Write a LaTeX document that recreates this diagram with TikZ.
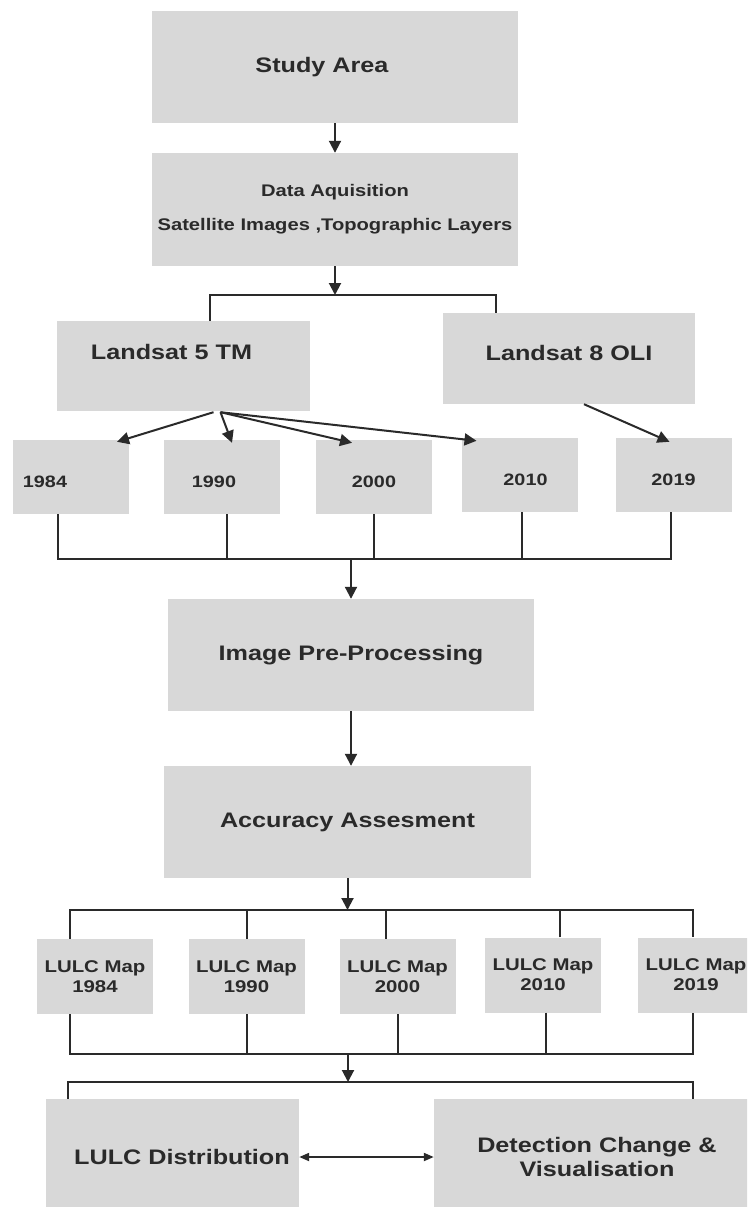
\documentclass[tikz,border=0pt]{standalone}
\usepackage{fontspec}
\setmainfont{Liberation Sans}[FakeStretch=1.2]
\usetikzlibrary{calc}
\usetikzlibrary{arrows.meta}
\definecolor{boxgray}{HTML}{D8D8D8}
\definecolor{ink}{HTML}{2A2A2A}
\newcommand{\boxfont}[2]{\fontsize{#1}{#2}\selectfont\bfseries}

\begin{document}
\begin{tikzpicture}[x=1pt, y=-1pt,
  box/.style={fill=boxgray, text=ink, inner sep=0pt},
  conn/.style={draw=ink, line width=2pt},
  arr/.style={conn, -{Triangle[length=12pt, width=12pt]}},
  year/.style={box, minimum width=116, minimum height=74, text height=20pt, text depth=0pt, font=\boxfont{16.5}{20}},
  lulc/.style={box, align=center, minimum width=116, minimum height=75, font=\boxfont{17}{20}}]
  \useasboundingbox (0,0) rectangle (747,1207);
  \clip (0,0) rectangle (747,1207);

  \node[box, minimum width=366, minimum height=112, font=\boxfont{21}{25}] (study) at (335,67) {Study Area\hspace*{26pt}};
  \node[box, align=center, minimum width=366, minimum height=113, font=\boxfont{16.8}{34}] (data) at (335,209.5)
    {Data Aquisition\\Satellite Images ,Topographic Layers};
  \node[box, minimum width=253, minimum height=90, text height=15pt, text depth=28pt, font=\boxfont{21}{25}] (l5) at (183.5,366) {Landsat 5 TM\hspace*{24pt}};
  \node[box, minimum width=252, minimum height=91, text height=15pt, text depth=12pt, font=\boxfont{21}{25}] (l8) at (569,358.5) {Landsat 8 OLI};

  \node[year] (y84) at (71,477) {1984\hspace*{52pt}};
  \node[year] (y90) at (222,477) {1990\hspace*{16pt}};
  \node[year] (y00) at (374,477) {2000};
  \node[year] (y10) at (519.5,475) {\hspace*{12pt}2010};
  \node[year] (y19) at (673.5,475) {2019};

  \node[box, minimum width=366, minimum height=112, font=\boxfont{21}{25}] (pre) at (351,655) {Image Pre-Processing};
  \node[box, minimum width=367, minimum height=112, font=\boxfont{21}{25}] (acc) at (347.5,822) {Accuracy Assesment};

  \node[lulc] (m84) at (95,976.5) {LULC Map\\1984};
  \node[lulc] (m90) at (246.5,976.5) {LULC Map\\1990};
  \node[lulc] (m00) at (397.5,976.5) {LULC Map\\2000};
  \node[lulc] (m10) at (543,975) {LULC Map\\2010};
  \node[lulc] (m19) at (696,975) {LULC Map\\2019};

  \node[box, minimum width=253, minimum height=116, font=\boxfont{21}{25}] (dist) at (172.5,1157) {\hspace*{19pt}LULC Distribution};
  \node[box, align=center, minimum width=326, minimum height=116, font=\boxfont{21}{24}] (det) at (597,1157) {Detection Change \&\\Visualisation};

  \coordinate (fork1) at (335,295);
  \coordinate (join1) at (351,559);
  \coordinate (fork2) at (347.5,910);
  \coordinate (join2) at (348,1054);
  \coordinate (fork3) at (348,1082);

  \draw[arr] (study) -- (data);
  \draw[arr] (data.south) -- (fork1);
  \draw[conn] ($(l5.north)+(26.5,0)$) |- (fork1) -| ($(l8.north)+(-73,0)$);

  \draw[arr] ($(l5.south)+(30,1)$) -- ($(y84.north)+(46,2)$);
  \draw[arr] ($(l5.south)+(37,1)$) -- ($(y90.north)+(10,3)$);
  \draw[arr] ($(l5.south)+(37,1)$) -- ($(y00.north)+(-22,3)$);
  \draw[arr] ($(l5.south)+(37,1)$) -- ($(y10.north)+(-43,3)$);
  \draw[arr] ($(l8.south)+(15,0)$) -- ($(y19.north)+(-4,4)$);

  \draw[conn] ($(y84.south)+(-13,0)$) |- (join1) -| ($(y19.south)+(-2.5,0)$);
  \draw[conn] ($(y90.south)+(5,0)$) -- ++(0,45);
  \draw[conn] (y00.south) -- ++(0,45);
  \draw[conn] ($(y10.south)+(2.5,0)$) -- ++(0,47);
  \draw[arr] (join1) -- (pre.north);

  \draw[arr] (pre.south) -- (pre.south |- acc.north);
  \draw[arr] (acc.south) -- (fork2);
  \draw[conn] ($(m84.north)+(-25,0)$) |- (fork2) -| ($(m19.north)+(-3,0)$);
  \draw[conn] (m90.north) -- ++(0,-29);
  \draw[conn] ($(m00.north)+(-11.5,0)$) -- ++(0,-29);
  \draw[conn] ($(m10.north)+(17,0)$) -- ++(0,-28);

  \draw[conn] ($(m84.south)+(-25,0)$) |- (join2) -| ($(m19.south)+(-3,0)$);
  \draw[conn] (m90.south) -- ++(0,40);
  \draw[conn] ($(m00.south)+(0.5,0)$) -- ++(0,40);
  \draw[conn] ($(m10.south)+(3,0)$) -- ++(0,42);
  \draw[arr] (join2) -- (fork3);
  \draw[conn] ($(dist.north)+(-104.5,0)$) |- (fork3) -| ($(det.north)+(96,0)$);

  \draw[conn, {Triangle[length=10pt, width=8pt]}-{Triangle[length=10pt, width=8pt]}] (dist.east) -- (det.west);
\end{tikzpicture}
\end{document}
